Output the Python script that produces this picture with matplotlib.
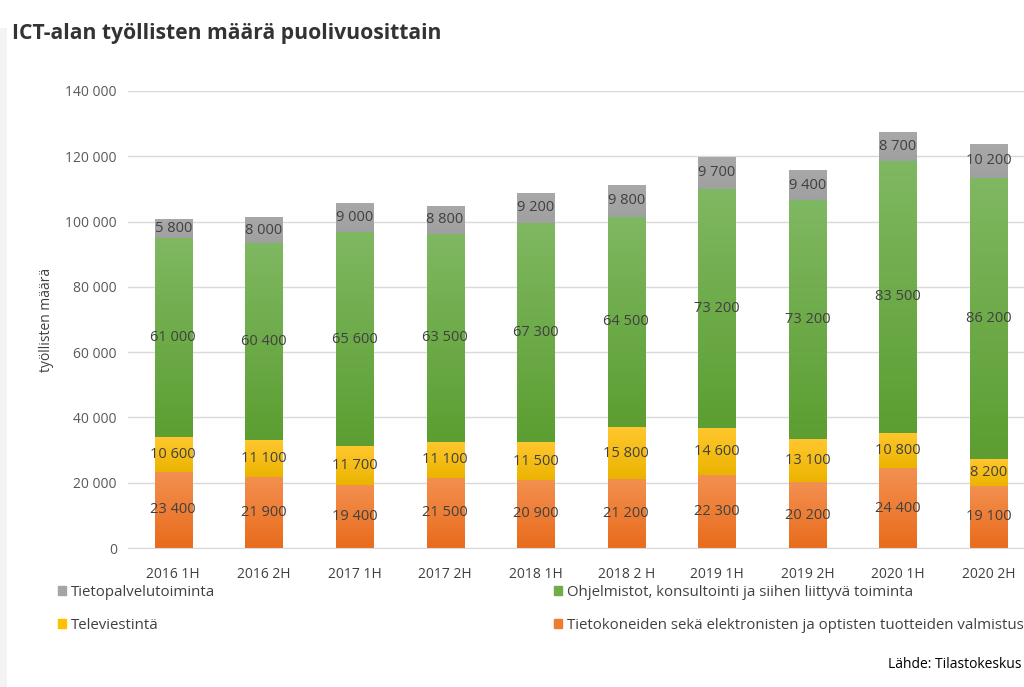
import numpy as np
import matplotlib
matplotlib.use("Agg")
import matplotlib.pyplot as plt
from matplotlib.colors import LinearSegmentedColormap
from matplotlib.patches import Patch, Rectangle

# data
periods = ["2016 1H", "2016 2H", "2017 1H", "2017 2H", "2018 1H",
           "2018 2 H", "2019 1H", "2019 2H", "2020 1H", "2020 2H"]
valmistus = [23400, 21900, 19400, 21500, 20900, 21200, 22300, 20200, 24400, 19100]
televiestinta = [10600, 11100, 11700, 11100, 11500, 15800, 14600, 13100, 10800, 8200]
ohjelmistot = [61000, 60400, 65600, 63500, 67300, 64500, 73200, 73200, 83500, 86200]
tietopalvelu = [5800, 8000, 9000, 8800, 9200, 9800, 9700, 9400, 8700, 10200]

names = ["Tietokoneiden sekä elektronisten ja optisten tuotteiden valmistus",
         "Televiestintä",
         "Ohjelmistot, konsultointi ja siihen liittyvä toiminta",
         "Tietopalvelutoiminta"]
series = [valmistus, televiestinta, ohjelmistot, tietopalvelu]
# (top colour, bottom colour) for the vertical gradient
grads = [("#f39050", "#e86c1c"),
         ("#ffc72e", "#ebb400"),
         ("#7fb862", "#5c9e31"),
         ("#a8a8a8", "#a0a0a0")]
legend_cols = ["#ed7d31", "#ffc000", "#70ad47", "#a5a5a5"]

plt.rcParams['font.family'] = ['Open Sans', 'DejaVu Sans']

fig = plt.figure(figsize=(10.24, 6.87), dpi=100)
ax = fig.add_axes([128 / 1024, 1 - 548 / 687, 1 - 128 / 1024, (548 - 91) / 687])

# faint shadow strip on the left edge
fig.patches.append(Rectangle((0, 0), 7 / 1024, 1 - 28 / 687, transform=fig.transFigure,
                             color="#f3f3f3", linewidth=0, zorder=0))

x = np.arange(len(periods))
bottom = np.zeros(len(periods))
grad_img = np.linspace(0, 1, 256).reshape(-1, 1)
for vals, (ctop, cbot), name in zip(series, grads, names):
    vals = np.array(vals)
    bars = ax.bar(x, vals, 0.41, bottom=bottom, color=ctop, linewidth=0, zorder=2)
    cmap = LinearSegmentedColormap.from_list("g", [ctop, cbot])
    for b in bars:
        x0, y0 = b.get_x(), b.get_y()
        im = ax.imshow(grad_img, cmap=cmap, aspect="auto", origin="upper",
                       extent=(x0, x0 + b.get_width(), y0, y0 + b.get_height()),
                       zorder=2.5, interpolation="bilinear")
        im.set_clip_path(b)
    for xi, v, bt in zip(x, vals, bottom):
        ax.text(xi, bt + v / 2, f"{v:,}".replace(",", " "), ha="center", va="center",
                fontsize=10.5, color="#404040", zorder=4)
    bottom = bottom + vals

ax.set_xlim(-0.5, 9.39)
ax.set_ylim(0, 140000)
ax.set_yticks(np.arange(0, 140001, 20000))
ax.set_yticklabels([f"{v:,}".replace(",", " ") for v in range(0, 140001, 20000)])
ax.set_xticks(x)
ax.set_xticklabels(periods)
ax.tick_params(length=0, labelsize=10, colors="#595959", pad=8)
ax.tick_params(axis="x", pad=14, labelcolor="#404040")
ax.grid(axis="y", color="#d9d9d9", linewidth=1, zorder=0)
for s in ax.spines.values():
    s.set_visible(False)
ax.spines["bottom"].set_visible(True)
ax.spines["bottom"].set_color("#d9d9d9")
ax.set_ylabel("työllisten määrä", fontsize=10, color="#404040", labelpad=8)

fig.text(12 / 1024, 1 - 33 / 687, "ICT-alan työllisten määrä puolivuosittain",
         fontsize=15.2, fontweight="bold", color="#333333", va="center")

h = [Patch(color=c) for c in legend_cols]
leg_kw = dict(frameon=False, fontsize=10.8, handlelength=0.55, handleheight=0.55,
              handletextpad=0.3, labelspacing=1.2, labelcolor="#404040",
              loc="upper left", borderaxespad=0, borderpad=0)
fig.legend([h[3], h[1]], [names[3], names[1]],
           bbox_to_anchor=(58 / 1024, 1 - 585 / 687), **leg_kw)
fig.legend([h[2], h[0]], [names[2], names[0]],
           bbox_to_anchor=(554 / 1024, 1 - 585 / 687), **leg_kw)

fig.text(1022 / 1024, 1 - 665 / 687, "Lähde: Tilastokeskus", ha="right", va="center",
         fontsize=10, color="#000000")

fig.savefig("out.png", dpi=100)
